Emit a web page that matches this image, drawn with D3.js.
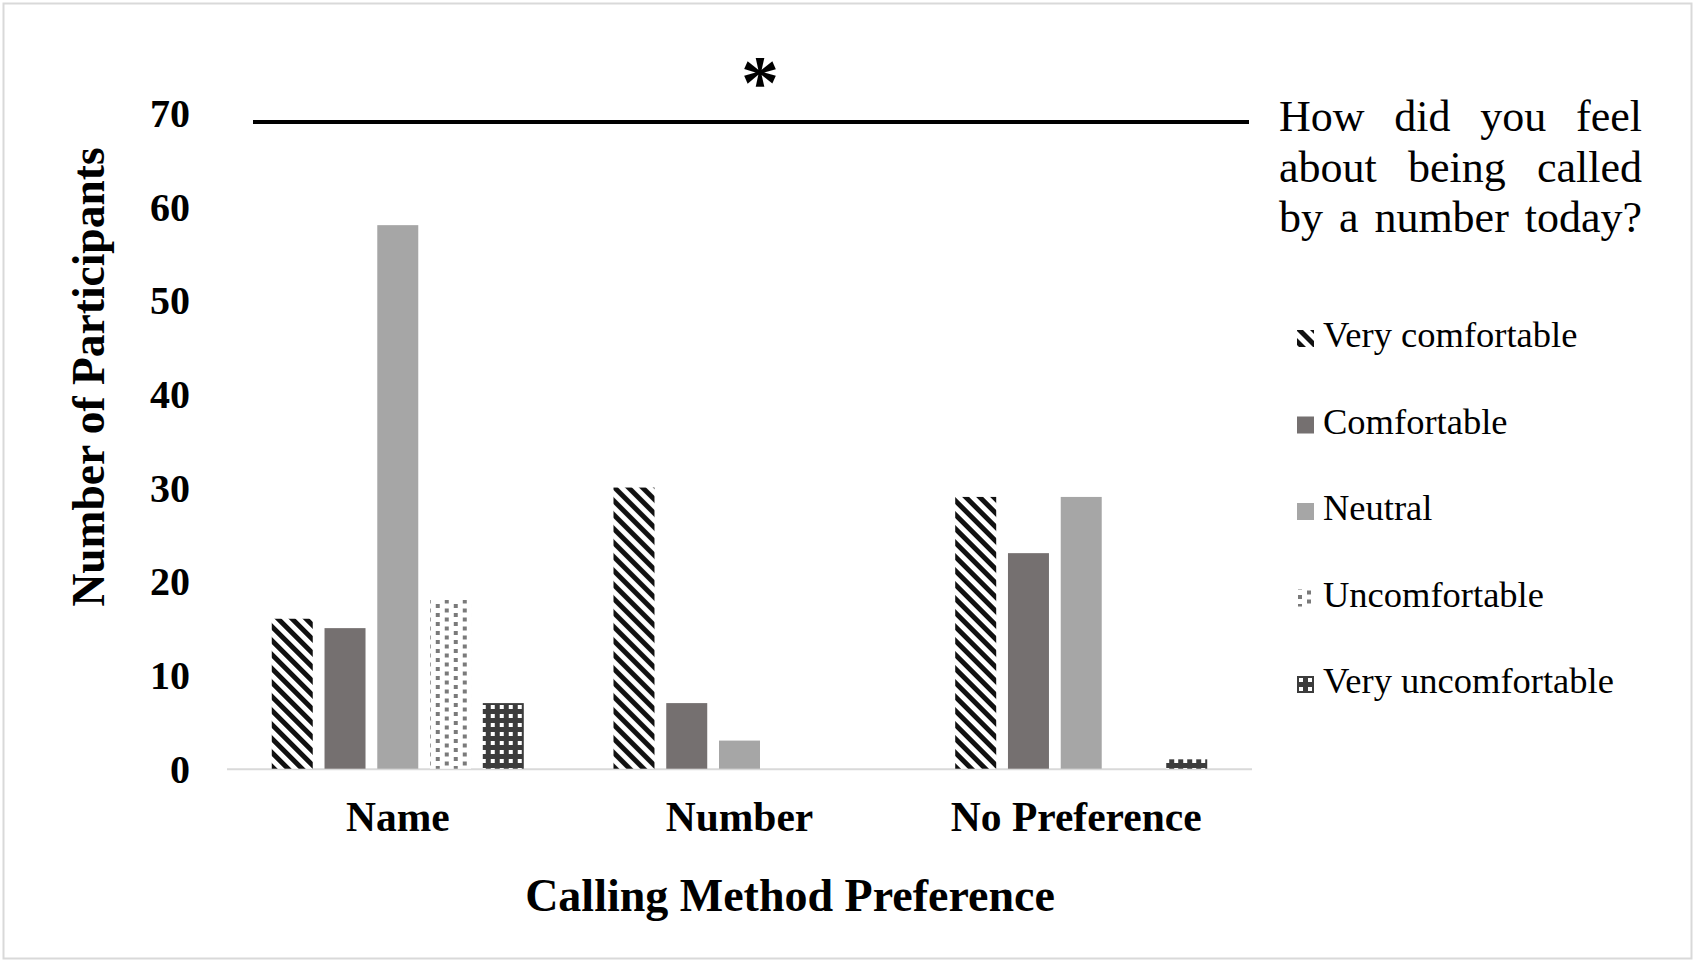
<!DOCTYPE html>
<html>
<head>
<meta charset="utf-8">
<script src="https://cdn.jsdelivr.net/npm/d3@7"></script>
<style>
  html, body { margin: 0; padding: 0; background: #fff; }
  svg { display: block; }
  text { font-family: "Liberation Serif", "Times New Roman", "DejaVu Serif", serif; }
</style>
</head>
<body>
<svg id="chart" width="1695" height="962"></svg>
<script>
const categories = ["Name", "Number", "No Preference"];
const seriesNames = ["Very comfortable", "Comfortable", "Neutral", "Uncomfortable", "Very uncomfortable"];
const veryComfortable = [16, 30, 29];
const comfortable = [15, 7, 23];
const neutral = [58, 3, 29];
const uncomfortable = [18, 0, 0];
const veryUncomfortable = [7, 0, 1];
const yTicks = [0, 10, 20, 30, 40, 50, 60, 70];
const legendTitleLines = ["How did you feel", "about being called", "by a number today?"];
const significanceLevel = 69;

const seriesValues = [veryComfortable, comfortable, neutral, uncomfortable, veryUncomfortable];
const data = categories.map((c, i) => ({
  category: c,
  values: seriesNames.map((s, j) => ({ series: s, value: seriesValues[j][i] }))
}));

const svg = d3.select("#chart");
const W = 1695, H = 962;

// frame
svg.append("rect").attr("x", 3.5).attr("y", 3.5).attr("width", W - 7).attr("height", H - 7)
  .attr("fill", "#fff").attr("stroke", "#d9d9d9").attr("stroke-width", 2);

// patterns
const defs = svg.append("defs");
const per = 14 * Math.SQRT1_2;
const pVC = defs.append("pattern").attr("id", "pVC").attr("patternUnits", "userSpaceOnUse")
  .attr("width", per).attr("height", per).attr("patternTransform", "rotate(-45)");
pVC.append("rect").attr("width", per).attr("height", per).attr("fill", "#fff");
pVC.append("rect").attr("width", per * 0.5).attr("height", per).attr("fill", "#111");

const pUN = defs.append("pattern").attr("id", "pUN").attr("patternUnits", "userSpaceOnUse")
  .attr("width", 18).attr("height", 9);
pUN.append("rect").attr("width", 18).attr("height", 9).attr("fill", "#fff");
pUN.append("rect").attr("x", 2).attr("y", 1).attr("width", 4).attr("height", 4).attr("fill", "#7a7a7a");
pUN.append("rect").attr("x", 11).attr("y", 5.5).attr("width", 4).attr("height", 4).attr("fill", "#7a7a7a");
pUN.append("rect").attr("x", 11).attr("y", -3.5).attr("width", 4).attr("height", 4).attr("fill", "#7a7a7a");

const pVU = defs.append("pattern").attr("id", "pVU").attr("patternUnits", "userSpaceOnUse")
  .attr("width", 9).attr("height", 9);
pVU.append("rect").attr("width", 9).attr("height", 9).attr("fill", "#3c3c3c");
pVU.append("rect").attr("x", 3).attr("y", 3).attr("width", 4).attr("height", 4).attr("fill", "#fff");

const fills = {
  "Very comfortable": "url(#pVC)",
  "Comfortable": "#757070",
  "Neutral": "#a6a6a6",
  "Uncomfortable": "url(#pUN)",
  "Very uncomfortable": "url(#pVU)"
};

// scales
const x0 = d3.scaleBand().domain(categories).range([227, 1252]).paddingInner(0.2625).paddingOuter(0.131);
const x1 = d3.scaleBand().domain(seriesNames).range([0, x0.bandwidth()]).paddingInner(0.223).paddingOuter(0);
const y = d3.scaleLinear().domain([0, 70]).range([768.7, 112.7]);

// baseline
svg.append("line").attr("x1", 227).attr("x2", 1252).attr("y1", y(0) + 0.5).attr("y2", y(0) + 0.5)
  .attr("stroke", "#d9d9d9").attr("stroke-width", 2);

// bars
const g = svg.append("g");
const groups = g.selectAll("g.grp").data(data).join("g").attr("class", "grp")
  .attr("transform", d => `translate(${x0(d.category)},0)`);
groups.selectAll("rect").data(d => d.values.filter(v => v.value > 0)).join("rect")
  .attr("x", d => x1(d.series))
  .attr("width", x1.bandwidth())
  .attr("y", d => y(d.value))
  .attr("height", d => y(0) - y(d.value))
  .attr("fill", d => fills[d.series]);

// y axis
const yAxis = d3.axisLeft(y).tickValues(yTicks).tickSize(0).tickPadding(0);
const ya = svg.append("g").attr("transform", "translate(190,0)").call(yAxis);
ya.select(".domain").remove();
ya.selectAll("text").attr("font-family", "Liberation Serif, Times New Roman, serif")
  .attr("font-size", 40).attr("font-weight", "bold").attr("fill", "#000").attr("dy", "0.34em");

// x axis labels
const labelShift = { "Name": 0, "Number": 0, "No Preference": -5 };
const xAxis = d3.axisBottom(x0).tickSize(0).tickPadding(0);
const xa = svg.append("g").attr("transform", `translate(0,${831})`).call(xAxis);
xa.select(".domain").remove();
xa.selectAll("text").attr("font-family", "Liberation Serif, Times New Roman, serif")
  .attr("font-size", 41.5).attr("font-weight", "bold").attr("fill", "#000").attr("dy", "0")
  .attr("dx", d => labelShift[d]);

// axis titles
svg.append("text").attr("x", 790).attr("y", 911).attr("text-anchor", "middle")
  .attr("font-size", 46).attr("font-weight", "bold").text("Calling Method Preference");
svg.append("text").attr("transform", "translate(104,377) rotate(-90)").attr("text-anchor", "middle")
  .attr("font-size", 45.5).attr("font-weight", "bold").text("Number of Participants");

// significance
svg.append("line").attr("x1", 253).attr("x2", 1249).attr("y1", y(significanceLevel)).attr("y2", y(significanceLevel))
  .attr("stroke", "#000").attr("stroke-width", 4);
svg.append("text").attr("x", 760).attr("y", 108).attr("text-anchor", "middle")
  .attr("font-size", 76).attr("font-weight", "bold").text("*");

// legend title (justified)
const tx0 = 1279, tx1 = 1642;
legendTitleLines.forEach((line, i) => {
  const words = line.split(" ");
  const by = 131 + i * 50.5;
  const ws = words.map(w => svg.append("text").attr("y", by).attr("font-size", 44).text(w));
  const widths = ws.map(t => t.node().getComputedTextLength());
  const total = d3.sum(widths);
  const gap = (tx1 - tx0 - total) / (words.length - 1);
  let cx = tx0;
  ws.forEach((t, k) => { t.attr("x", cx); cx += widths[k] + gap; });
});

// legend entries
const leg = svg.append("g");
seriesNames.forEach((s, i) => {
  const by = 347 + i * 86.5;
  leg.append("rect").attr("x", 1297).attr("y", by - 17).attr("width", 17).attr("height", 17).attr("fill", fills[s]);
  leg.append("text").attr("x", 1323).attr("y", by).attr("font-size", 36.5).text(s);
});
</script>
</body>
</html>
